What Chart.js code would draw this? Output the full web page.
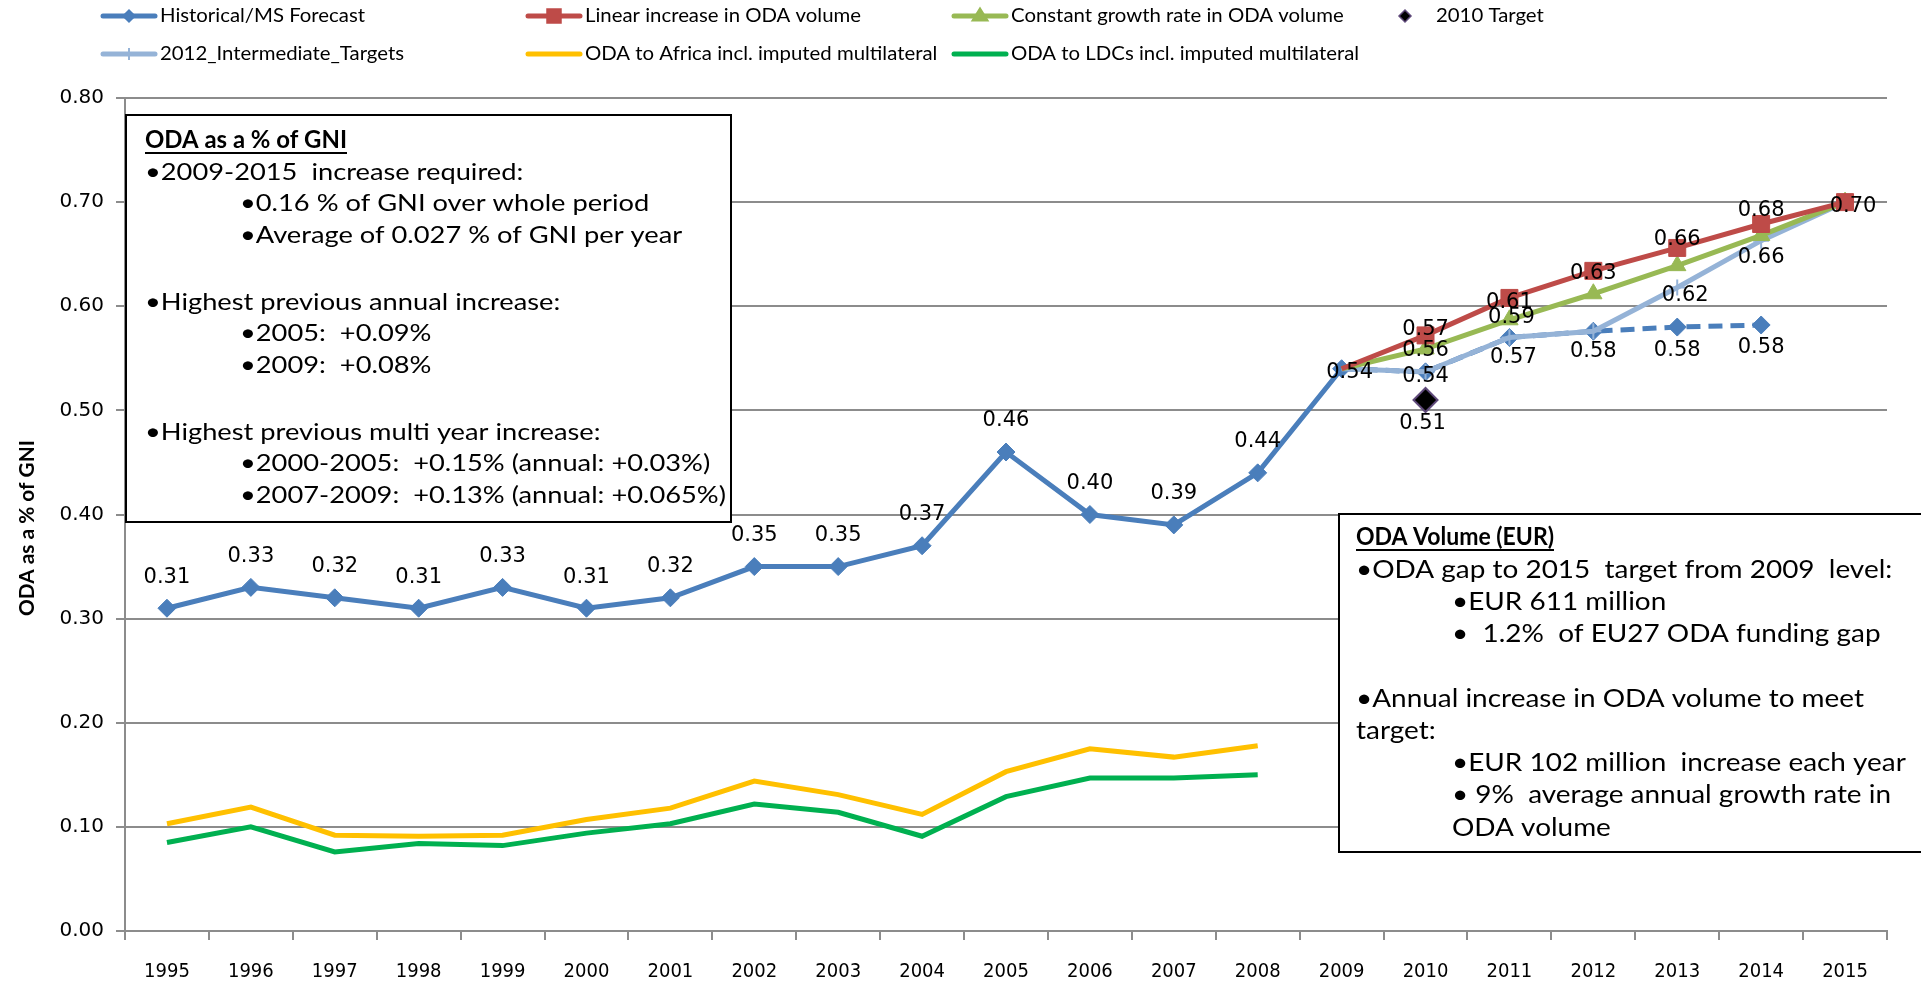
<!DOCTYPE html>
<html><head><meta charset="utf-8">
<script src="https://cdn.jsdelivr.net/npm/chart.js@4.4.1/dist/chart.umd.min.js"></script>
<style>html,body{margin:0;padding:0;overflow:hidden;background:#fff}</style>
</head><body>
<canvas id="c" width="1921" height="984" style="display:block"></canvas>
<script>
// ---------------- DATA ----------------
const years = ['1995','1996','1997','1998','1999','2000','2001','2002','2003','2004','2005','2006','2007','2008','2009','2010','2011','2012','2013','2014','2015'];
const historical   = [0.31,0.33,0.32,0.31,0.33,0.31,0.32,0.35,0.35,0.37,0.46,0.40,0.39,0.44,0.54,0.537,0.57,0.576,0.58,0.582,null];
const linearInc    = [null,null,null,null,null,null,null,null,null,null,null,null,null,null,0.54,0.572,0.608,0.634,0.656,0.679,0.70];
const constGrowth  = [null,null,null,null,null,null,null,null,null,null,null,null,null,null,0.54,0.559,0.587,0.612,0.639,0.668,0.70];
const target2010   = [null,null,null,null,null,null,null,null,null,null,null,null,null,null,null,0.51,null,null,null,null,null];
const intermediate = [null,null,null,null,null,null,null,null,null,null,null,null,null,null,0.54,0.537,0.57,0.576,0.618,0.663,0.70];
const africa       = [0.103,0.119,0.092,0.091,0.092,0.107,0.118,0.144,0.131,0.112,0.153,0.175,0.167,0.178,null,null,null,null,null,null,null];
const ldcs         = [0.085,0.100,0.076,0.084,0.082,0.094,0.103,0.122,0.114,0.091,0.129,0.147,0.147,0.150,null,null,null,null,null,null,null];
const yTicks = [0,0.1,0.2,0.3,0.4,0.5,0.6,0.7,0.8];

const seriesNames = ['Historical/MS Forecast','Linear increase in ODA volume','Constant growth rate in ODA volume','2010 Target','2012_Intermediate_Targets','ODA to Africa incl. imputed multilateral','ODA to LDCs incl. imputed multilateral'];

const box1Lines = [
  ['ODA as a % of GNI', 0, true],
  ['•2009-2015  increase required:', 0],
  ['•0.16 % of GNI over whole period', 1],
  ['•Average of 0.027 % of GNI per year', 1],
  ['•Highest previous annual increase:', 0],
  ['•2005:  +0.09%', 1],
  ['•2009:  +0.08%', 1],
  ['•Highest previous multi year increase:', 0],
  ['•2000-2005:  +0.15% (annual: +0.03%)', 1],
  ['•2007-2009:  +0.13% (annual: +0.065%)', 1]
];
const box2Lines = [
  ['ODA Volume (EUR)', 0, true],
  ['•ODA gap to 2015  target from 2009  level:', 0],
  ['•EUR 611 million', 1],
  ['•  1.2%  of EU27 ODA funding gap', 1],
  ['•Annual increase in ODA volume to meet', 0],
  ['target:', 0],
  ['•EUR 102 million  increase each year', 1],
  ['• 9%  average annual growth rate in', 1],
  ['ODA volume', 1]
];

// ---------------- STYLE / LAYOUT ----------------
const C = {hist:'#4A7EBB', lin:'#BE4B48', con:'#98B954', inter:'#95B3D7', afr:'#FFC000', ldc:'#00B050', tgt:'#000000', tgtB:'#5F497A', grid:'#8C8C8C'};
const TXT = "Lato, 'Open Sans', sans-serif";

// data label offsets per series (pixels relative to point)
const labelOffsets = {
  0: Object.assign({}, ...Array.from({length:14},(_,i)=>({[i]:[0,-31]})), {14:[8,4],15:[0,5],16:[4,20],17:[0,20],18:[0,23],19:[0,23]}),
  1: {15:[0,-6],16:[0,5],17:[0,3],18:[0,-8],19:[0,-13],20:[8,4]},
  2: {15:[0,2],16:[2,-2]},
  3: {15:[-3,24]},
  4: {18:[8,8],19:[0,17]}
};
const hideAtStart = r => (c => c.dataIndex === 14 ? 0 : r);

function drawMarker(ctx, style, x, y, r, fill, stroke, bw) {
  ctx.save();
  ctx.fillStyle = fill; ctx.strokeStyle = stroke; ctx.lineWidth = bw;
  ctx.beginPath();
  if (style === 'diamond') { ctx.moveTo(x-r,y); ctx.lineTo(x,y-r); ctx.lineTo(x+r,y); ctx.lineTo(x,y+r); ctx.closePath(); ctx.fill(); ctx.stroke(); }
  else if (style === 'square') { ctx.rect(x-r,y-r,2*r,2*r); ctx.fill(); ctx.stroke(); }
  else if (style === 'triangle') { ctx.moveTo(x-r,y+r*0.6); ctx.lineTo(x,y-r); ctx.lineTo(x+r,y+r*0.6); ctx.closePath(); ctx.fill(); ctx.stroke(); }
  else if (style === 'cross') { ctx.moveTo(x,y-r); ctx.lineTo(x,y+r); ctx.moveTo(x-r,y); ctx.lineTo(x+r,y); ctx.stroke(); }
  ctx.restore();
}

function fitScale(ctx, font, text, target) {
  ctx.save(); ctx.font = font; const w = ctx.measureText(text).width; ctx.restore();
  return target / w;
}
function drawScaledText(ctx, text, x, y, font, sx, underline) {
  ctx.save();
  ctx.translate(x, y); ctx.scale(sx, 1);
  ctx.font = font; ctx.fillStyle = '#000'; ctx.textAlign = 'left'; ctx.textBaseline = 'middle';
  ctx.fillText(text, 0, 0);
  if (underline) {
    const w = ctx.measureText(text).width;
    ctx.fillRect(0, 12, w, 2);
  }
  ctx.restore();
}

function drawBox(ctx, b, lines, ys, fontPx, refIdx, refW, titleW) {
  ctx.save();
  ctx.fillStyle = '#fff'; ctx.fillRect(b.l, b.t, b.r-b.l, b.b-b.t);
  ctx.strokeStyle = '#000'; ctx.lineWidth = 2; ctx.strokeRect(b.l, b.t, b.r-b.l, b.b-b.t);
  ctx.restore();
  const font = fontPx + 'px ' + TXT, bold = 'bold ' + fontPx + 'px ' + TXT;
  const sx = fitScale(ctx, font, lines[refIdx][0], refW);
  lines.forEach((ln, i) => {
    const x = ln[1] ? b.x2 : b.x1;
    const s = ln[2] ? fitScale(ctx, bold, ln[0], titleW) : sx;
    drawScaledText(ctx, ln[0], x, ys[i], ln[2] ? bold : font, s, !!ln[2]);
  });
}

const overlayPlugin = {
  id: 'overlay',
  beforeDatasetsDraw(chart) {
    const ctx = chart.ctx;
    drawBox(ctx, {l:126, t:115, r:731, b:522, x1:145, x2:240}, box1Lines,
      [140,172,203,235,302,333,365,432,463,495], 24, 9, 486, 202);
    drawBox(ctx, {l:1339, t:514, r:1930, b:852, x1:1356, x2:1452}, box2Lines,
      [537,570,602,634,699,731,763,795,828], 25, 4, 508, 198);
  },
  afterDatasetsDraw(chart) {
    const ctx = chart.ctx;
    ctx.save();
    ctx.font = "21px 'DejaVu Sans'";
    ctx.fillStyle = '#000'; ctx.textAlign = 'center'; ctx.textBaseline = 'middle';
    chart.data.datasets.forEach((ds, di) => {
      const offs = labelOffsets[di]; if (!offs) return;
      const meta = chart.getDatasetMeta(di);
      Object.keys(offs).forEach(k => {
        const i = +k, v = ds.data[i];
        if (v == null) return;
        const pt = meta.data[i];
        ctx.fillText(v.toFixed(2), pt.x + offs[k][0], pt.y + offs[k][1]);
      });
    });
    ctx.restore();
  },
  afterDraw(chart) {
    const ctx = chart.ctx;
    // y-axis title
    ctx.save();
    ctx.translate(27, 528); ctx.rotate(-Math.PI/2);
    ctx.font = "bold 21px " + TXT; ctx.fillStyle = '#000'; ctx.textAlign = 'center'; ctx.textBaseline = 'middle';
    const tsx = fitScale(ctx, ctx.font, 'ODA as a % of GNI', 176);
    ctx.scale(tsx, 1);
    ctx.fillText('ODA as a % of GNI', 0, 0);
    ctx.restore();
    // legend
    const lf = "18.5px " + TXT;
    const lsx = fitScale(ctx, lf, seriesNames[0], 205);
    const items = [
      {n:0, col:0, row:0, color:C.hist, m:'diamond', mr:6, line:true},
      {n:1, col:1, row:0, color:C.lin, m:'square', mr:7, line:true},
      {n:2, col:2, row:0, color:C.con, m:'triangle', mr:8, line:true},
      {n:3, col:3, row:0, color:C.tgt, m:'diamond', mr:6, line:false, stroke:C.tgtB},
      {n:4, col:0, row:1, color:C.inter, m:'cross', mr:6, line:true},
      {n:5, col:1, row:1, color:C.afr, m:null, line:true},
      {n:6, col:2, row:1, color:C.ldc, m:null, line:true}
    ];
    const colX = [101, 526, 952, 1377], rowY = [16, 54];
    items.forEach(it => {
      const x0 = colX[it.col], y = rowY[it.row];
      if (it.line) {
        ctx.save(); ctx.strokeStyle = it.color; ctx.lineWidth = 5; ctx.lineCap = 'round';
        ctx.beginPath(); ctx.moveTo(x0+2, y); ctx.lineTo(x0+54, y); ctx.stroke(); ctx.restore();
      }
      if (it.m) drawMarker(ctx, it.m, x0+28, y, it.mr, it.color, it.stroke || it.color, it.m==='cross'?2:1.5);
      drawScaledText(ctx, seriesNames[it.n], x0+59, y, lf, lsx, false);
    });
  }
};

new Chart(document.getElementById('c'), {
  type: 'line',
  data: {
    labels: years,
    datasets: [
      {label: seriesNames[0], data: historical, borderColor: C.hist, backgroundColor: C.hist, borderWidth: 5,
       pointStyle: 'rectRot', pointRadius: 9, pointBorderWidth: 1, order: 4,
       segment: {borderDash: c => c.p0DataIndex >= 14 ? [14, 8] : undefined}},
      {label: seriesNames[1], data: linearInc, borderColor: C.lin, backgroundColor: C.lin, borderWidth: 5,
       pointStyle: 'rect', pointRadius: hideAtStart(12), pointBorderWidth: 1, order: 1},
      {label: seriesNames[2], data: constGrowth, borderColor: C.con, backgroundColor: C.con, borderWidth: 5,
       pointStyle: 'triangle', pointRadius: hideAtStart(10), pointBorderWidth: 1, order: 2},
      {label: seriesNames[3], data: target2010, borderColor: C.tgtB, backgroundColor: C.tgt, showLine: false,
       pointStyle: 'rectRot', pointRadius: 12, pointBorderWidth: 2, order: 0},
      {label: seriesNames[4], data: intermediate, borderColor: C.inter, backgroundColor: C.inter, borderWidth: 5,
       pointStyle: 'cross', pointRadius: hideAtStart(8), pointBorderWidth: 2, order: 3},
      {label: seriesNames[5], data: africa, borderColor: C.afr, backgroundColor: C.afr, borderWidth: 5,
       pointRadius: 0, order: 5},
      {label: seriesNames[6], data: ldcs, borderColor: C.ldc, backgroundColor: C.ldc, borderWidth: 5,
       pointRadius: 0, order: 6}
    ]
  },
  options: {
    responsive: false, devicePixelRatio: 1, animation: false,
    layout: {padding: {top: 98, right: 34, left: 0, bottom: 0}},
    plugins: {legend: {display: false}, tooltip: {enabled: false}, title: {display: false}},
    scales: {
      x: {
        offset: true,
        afterFit: s => { s.height = 53; },
        grid: {display: true, drawOnChartArea: false, drawTicks: true, tickLength: 9, offset: true, color: C.grid, lineWidth: 2},
        border: {display: true, color: C.grid, width: 2},
        ticks: {font: {family: "'DejaVu Sans Condensed', 'DejaVu Sans'", size: 20}, color: '#000', padding: 20, maxRotation: 0, autoSkip: false}
      },
      y: {
        min: 0, max: 0.8,
        afterFit: s => { s.width = 125; },
        afterBuildTicks: s => { s.ticks = yTicks.map(v => ({value: v})); },
        grid: {color: C.grid, lineWidth: 2, tickLength: 9},
        border: {display: true, color: C.grid, width: 2},
        ticks: {font: {family: "'DejaVu Sans'", size: 20}, color: '#000', padding: 12, callback: v => Number(v).toFixed(2)}
      }
    }
  },
  plugins: [overlayPlugin]
});
</script>
</body></html>
